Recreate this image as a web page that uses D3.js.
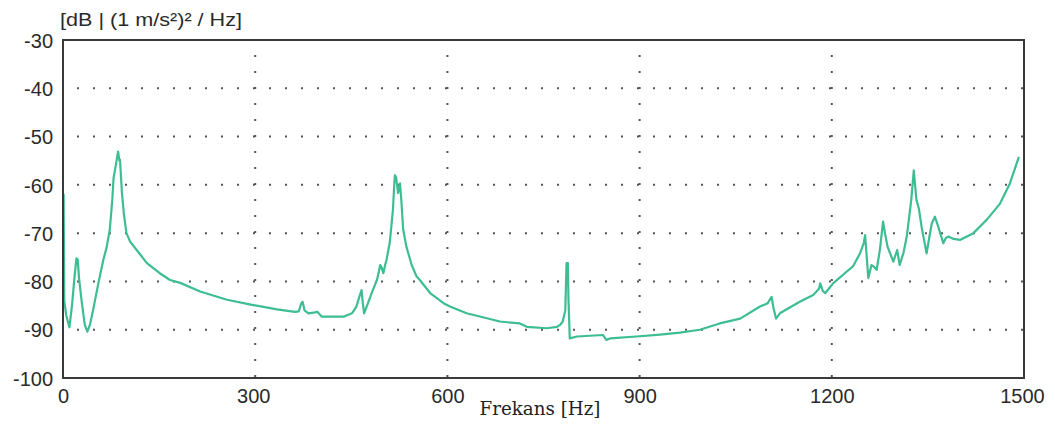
<!DOCTYPE html>
<html>
<head>
<meta charset="utf-8">
<script src="https://cdn.jsdelivr.net/npm/d3@7"></script>
<style>
  html, body { margin: 0; padding: 0; background: #ffffff; }
  svg { display: block; }
</style>
</head>
<body>
<svg id="chart" width="1055" height="428"></svg>
<script>
const freqHz = [0, 1, 2, 5, 10, 14, 18, 21, 23, 25, 29, 34, 38, 42, 47, 55, 63, 68, 73, 77, 79, 83, 86, 88, 89, 92, 95, 99, 105, 115, 131, 151, 167, 183, 214, 256, 297, 334, 362, 368, 372, 374, 377, 383, 393, 397, 404, 438, 451, 458, 463, 466, 468, 470, 476, 483, 490, 493, 495, 497, 500, 503, 505, 510, 515, 517, 518, 520, 523, 526, 528, 531, 536, 544, 552, 557, 573, 594, 604, 630, 682, 713, 724, 755, 771, 776, 780, 784, 786, 788, 789, 791, 802, 843, 848, 854, 895, 932, 963, 994, 1025, 1057, 1088, 1100, 1106, 1109, 1113, 1119, 1150, 1171, 1180, 1182, 1186, 1190, 1202, 1223, 1233, 1244, 1250, 1252, 1254, 1257, 1262, 1266, 1270, 1275, 1280, 1283, 1287, 1296, 1302, 1306, 1312, 1317, 1324, 1328, 1332, 1336, 1340, 1348, 1352, 1356, 1361, 1366, 1374, 1378, 1382, 1390, 1400, 1421, 1436, 1442, 1462, 1478, 1492];
const levelDb = [-62, -62, -84, -87, -89.5, -85, -79, -75.2, -75.5, -79.3, -84, -89, -90.4, -89, -85.9, -80.5, -75.5, -73, -69.3, -63, -58.5, -55.5, -53.1, -55, -54.8, -61.7, -66, -70, -71.8, -73.5, -76.2, -78.3, -79.7, -80.3, -82.1, -83.8, -84.9, -85.8, -86.3, -86.2, -84.5, -84.2, -86, -86.6, -86.4, -86.3, -87.3, -87.3, -86.6, -85.2, -83, -81.8, -84.5, -86.6, -84.5, -82, -79.7, -78, -76.6, -77, -78.3, -76.5, -75.5, -72, -65.2, -60, -58, -58.5, -61.7, -59.7, -63, -69.3, -72.8, -76.5, -79, -79.7, -82.4, -84.5, -85.2, -86.6, -88.3, -88.7, -89.4, -89.7, -89.4, -89, -88.3, -86, -76.2, -76.2, -83.8, -91.8, -91.4, -91.1, -92.1, -91.8, -91.4, -91, -90.6, -90, -88.7, -87.7, -85.2, -84.5, -83.2, -85.5, -87.7, -86.6, -84.2, -82.8, -81.5, -80.4, -82, -82.4, -80.4, -78, -76.9, -74.2, -72, -70.4, -74, -79.3, -76.6, -77, -77.6, -73.5, -67.6, -70, -72.8, -75.9, -73.5, -76.6, -74, -70.7, -63.1, -57, -63, -65, -68.6, -74.2, -71, -68, -66.6, -68.6, -72.1, -71, -70.7, -71.2, -71.4, -70, -68, -67.2, -64, -59.7, -54.2];

const xTicks = [0, 300, 600, 900, 1200, 1500];
const yTicks = [-30, -40, -50, -60, -70, -80, -90, -100];
const xGrid = [300, 600, 900, 1200];
const yGrid = [-40, -50, -60, -70, -80, -90];
const xTitle = "Frekans [Hz]";
const yUnit = "[dB | (1 m/s²)² / Hz]";

const svg = d3.select("#chart");
const mLeft = 63, mRight = 1024, mTop = 40, mBottom = 378;
const x = d3.scaleLinear().domain([0, 1500]).range([mLeft, mRight]);
const y = d3.scaleLinear().domain([-100, -30]).range([mBottom, mTop]);

// dotted grid
const grid = svg.append("g");
grid.selectAll("line.h").data(yGrid).join("line")
  .attr("x1", mLeft).attr("x2", mRight)
  .attr("y1", d => y(d)).attr("y2", d => y(d))
  .attr("stroke", "#555").attr("stroke-width", 2)
  .attr("stroke-dasharray", "2,14").attr("stroke-dashoffset", 2);
grid.selectAll("line.v").data(xGrid).join("line")
  .attr("x1", d => x(d)).attr("x2", d => x(d))
  .attr("y1", mTop).attr("y2", mBottom)
  .attr("stroke", "#555").attr("stroke-width", 2)
  .attr("stroke-dasharray", "2,14").attr("stroke-dashoffset", 1);

// series line
const pts = freqHz.map((f, i) => [f, levelDb[i]]);
svg.append("path")
  .datum(pts)
  .attr("fill", "none")
  .attr("stroke", "#3dbd92")
  .attr("stroke-width", 2.2)
  .attr("stroke-linejoin", "round")
  .attr("d", d3.line().x(d => x(d[0])).y(d => y(d[1])));

// frame
svg.append("rect")
  .attr("x", mLeft).attr("y", mTop)
  .attr("width", mRight - mLeft).attr("height", mBottom - mTop)
  .attr("fill", "none").attr("stroke", "#3a3a3a").attr("stroke-width", 2);

// axes
const fmt = d => String(d);
const yAxis = svg.append("g").attr("transform", `translate(${mLeft - 10},0)`)
  .call(d3.axisLeft(y).tickValues(yTicks).tickSize(0).tickFormat(fmt));
yAxis.select(".domain").remove();
yAxis.selectAll("text")
  .attr("font-family", "Liberation Sans, Arial, sans-serif")
  .attr("font-size", 20).attr("fill", "#2a2a2a").attr("x", 0).attr("dy", "0.36em");

const xAxis = svg.append("g").attr("transform", `translate(0,${mBottom + 6})`)
  .call(d3.axisBottom(x).tickValues(xTicks).tickSize(0).tickFormat(fmt));
xAxis.select(".domain").remove();
xAxis.selectAll("text")
  .attr("font-family", "Liberation Sans, Arial, sans-serif")
  .attr("font-size", 20).attr("fill", "#2a2a2a").attr("y", 0).attr("dy", "0.95em");
xAxis.selectAll(".tick").filter(d => d === 1500).select("text").attr("dx", -2);
xAxis.selectAll(".tick").filter(d => d === 300).select("text").attr("dx", -2);

svg.append("text")
  .attr("x", 540).attr("y", 415)
  .attr("text-anchor", "middle")
  .attr("font-family", "DejaVu Serif, Liberation Serif, serif")
  .attr("font-size", 19).attr("fill", "#222")
  .attr("textLength", 121).attr("lengthAdjust", "spacingAndGlyphs")
  .text(xTitle);

svg.append("text")
  .attr("x", 60).attr("y", 26)
  .attr("font-family", "Liberation Sans, Arial, sans-serif")
  .attr("font-size", 19).attr("fill", "#2a2a2a")
  .attr("textLength", 182).attr("lengthAdjust", "spacingAndGlyphs")
  .text(yUnit);
</script>
</body>
</html>
